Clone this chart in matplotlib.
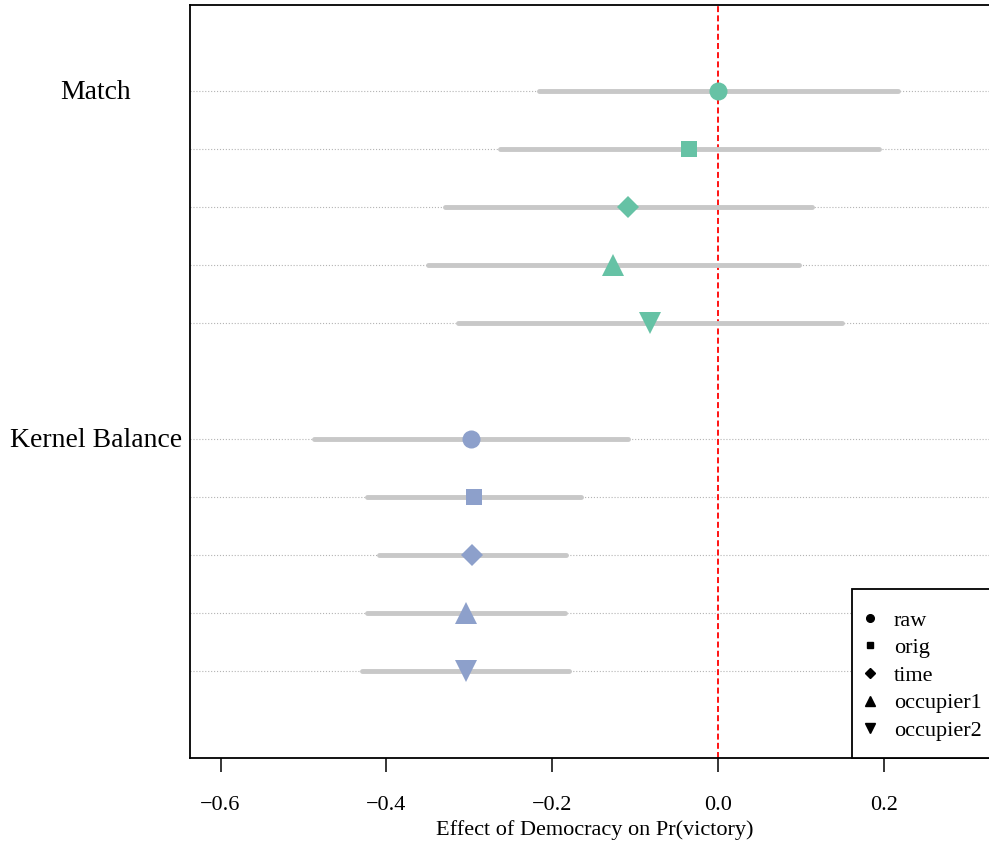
import matplotlib
matplotlib.use('Agg')
import matplotlib.pyplot as plt
from matplotlib.lines import Line2D
from matplotlib.patches import Rectangle
import matplotlib.transforms as mtransforms

plt.rcParams['font.family'] = ['Liberation Serif', 'DejaVu Serif']

groups = ['Match', 'Kernel Balance']
methods = ['raw', 'orig', 'time', 'occupier1', 'occupier2']
group_colors = ['#66C2A5', '#8DA0CB']
markers = ['o', 's', 'D', '^', 'v']
marker_sizes = [13, 11.5, 11, 16, 16]
legend_sizes = [5.5, 5, 5, 7.7, 7.7]

match_est = [0.000, -0.035, -0.109, -0.127, -0.082]
match_lo = [-0.216, -0.263, -0.330, -0.350, -0.314]
match_hi = [0.217, 0.194, 0.113, 0.097, 0.149]
kernel_est = [-0.298, -0.295, -0.297, -0.304, -0.304]
kernel_lo = [-0.487, -0.424, -0.409, -0.423, -0.429]
kernel_hi = [-0.109, -0.165, -0.183, -0.185, -0.180]

est = [match_est, kernel_est]
lo = [match_lo, kernel_lo]
hi = [match_hi, kernel_hi]

fig = plt.figure(figsize=(9.89, 8.46), dpi=100)
ax = fig.add_axes([0.1926, 0.1046, 0.8185, 0.8895])

# row positions: one blank row between the two groups
rows = []
for g in range(len(groups)):
    rows.append([1 + g * (len(methods) + 1) + m for m in range(len(methods))])

for g in range(len(groups)):
    for y in rows[g]:
        ax.axhline(y, color='#b4b4b4', ls=':', lw=0.8, zorder=1)

ax.axvline(0, color='red', ls=(0, (3.3, 1.8)), lw=1.3, zorder=2)

for g in range(len(groups)):
    lc = ax.hlines(rows[g], lo[g], hi[g], color='#c8c8c8', lw=3.5, zorder=3)
    lc.set_capstyle('round')
    for m in range(len(methods)):
        ax.plot(est[g][m], rows[g][m], ls='none', marker=markers[m],
                ms=marker_sizes[m], color=group_colors[g], mew=0, zorder=4)

ax.set_xlim(-0.6362, 0.3395)
ax.set_ylim(12.491, -0.4828)
ax.set_xticks([-0.6, -0.4, -0.2, 0.0, 0.2])
ax.set_xticklabels(['\u22120.6', '\u22120.4', '\u22120.2', '0.0', '0.2'])
ax.tick_params(axis='x', length=10, width=1.1, pad=18, labelsize=16)
ax.set_yticks([])
for s in ['left', 'top', 'bottom']:
    ax.spines[s].set_linewidth(1.3)
ax.spines['right'].set_visible(False)
ax.set_xlabel('Effect of Democracy on Pr(victory)', fontsize=16, labelpad=3.5)

# group labels in the left margin, baseline a little below the row line
trans = mtransforms.blended_transform_factory(fig.transFigure, ax.transData)
trans = mtransforms.offset_copy(trans, fig=fig, y=-8.3, units='dots')
for g in range(len(groups)):
    ax.text(96 / 989, rows[g][0], groups[g], transform=trans, ha='center',
            va='baseline', fontsize=20, clip_on=False)

# legend box
box = Rectangle((0.8172, 0), 0.3, 0.2239, transform=ax.transAxes,
                facecolor='white', edgecolor='black', lw=1.3, zorder=5,
                clip_on=False)
ax.add_patch(box)
handles = [Line2D([], [], ls='none', marker=markers[m], ms=legend_sizes[m],
                  color='black') for m in range(len(methods))]
leg = ax.legend(handles, methods, loc='upper left',
                bbox_to_anchor=(0.8172, 0.2239 - 0.028), frameon=False,
                borderaxespad=0, borderpad=0, handlelength=1.62,
                handletextpad=0.27, labelspacing=0.315, fontsize=16)
leg.set_zorder(6)

fig.savefig('out.png', dpi=100)
